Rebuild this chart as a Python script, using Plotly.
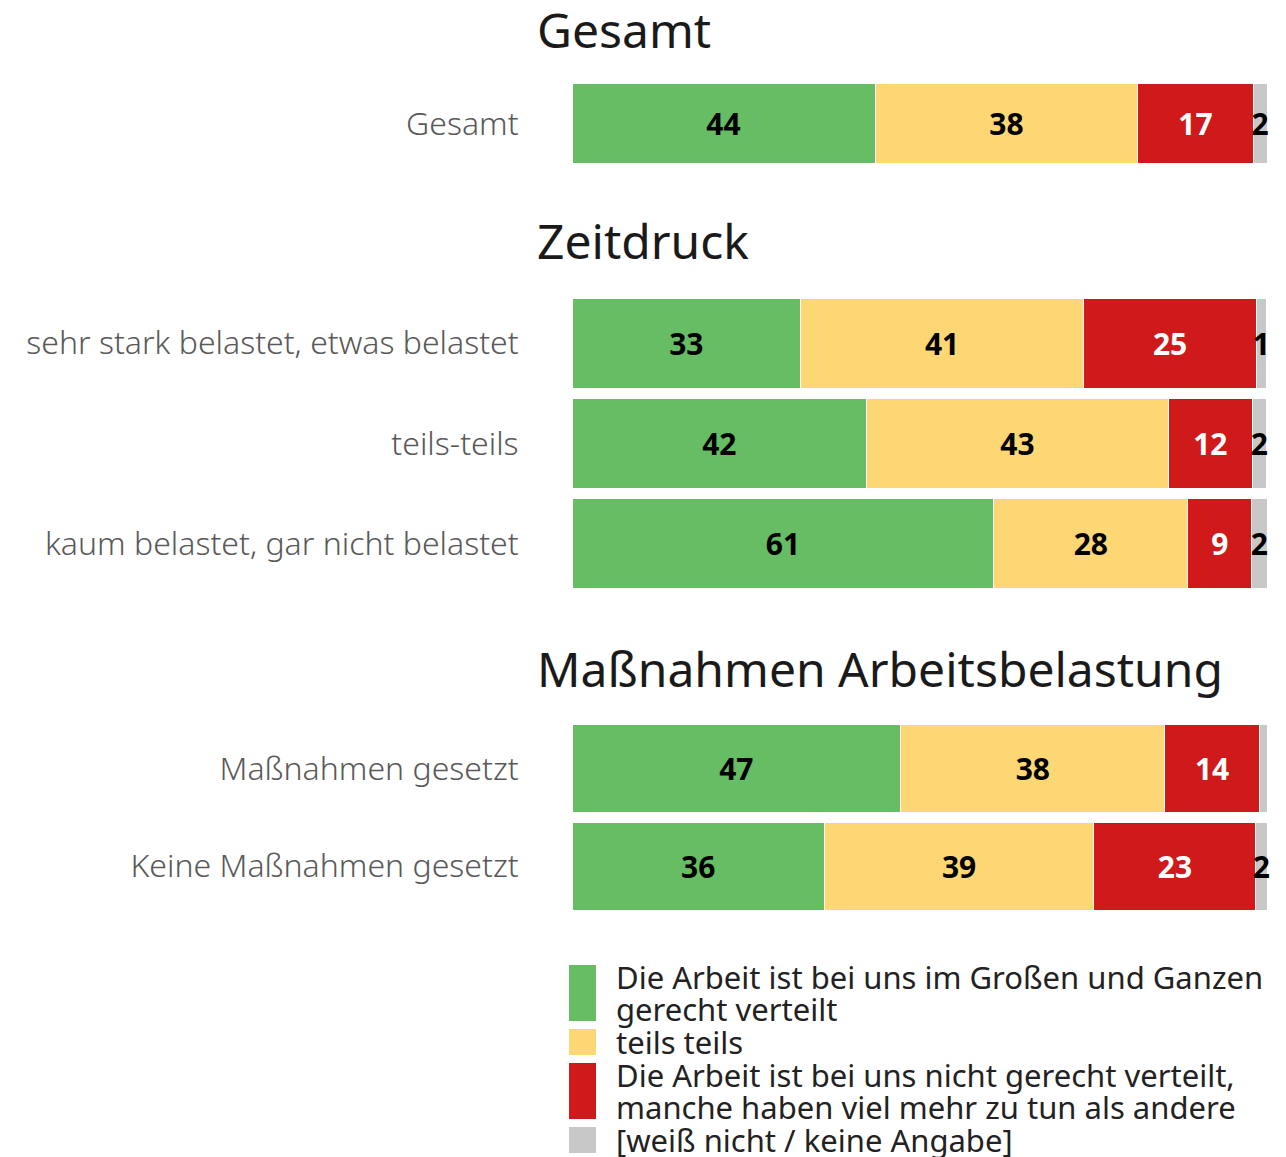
import plotly.graph_objects as go

# ---------------- data ----------------
panel_titles = ["Gesamt", "Zeitdruck", "Maßnahmen Arbeitsbelastung"]
categories = [
    "Gesamt",
    "sehr stark belastet, etwas belastet",
    "teils-teils",
    "kaum belastet, gar nicht belastet",
    "Maßnahmen gesetzt",
    "Keine Maßnahmen gesetzt",
]
category_panel = [0, 1, 1, 1, 2, 2]

series_names = [
    "Die Arbeit ist bei uns im Großen und Ganzen<br>gerecht verteilt",
    "teils teils",
    "Die Arbeit ist bei uns nicht gerecht verteilt,<br>manche haben viel mehr zu tun als andere",
    "[weiß nicht / keine Angabe]",
]
gerecht = [43.6, 32.9, 42.4, 60.7, 47.3, 36.3]
teils = [37.8, 40.7, 43.4, 27.9, 38.0, 38.8]
nicht_gerecht = [16.6, 24.9, 12.1, 9.2, 13.6, 23.3]
weiss_nicht = [2.0, 1.4, 2.0, 2.2, 1.2, 1.6]
series_values = [gerecht, teils, nicht_gerecht, weiss_nicht]

colors = ["#66BD63", "#FDD774", "#D0191A", "#C8C8C8"]
text_colors = ["#000000", "#000000", "#FFFFFF", "#000000"]

# ---------------- layout helpers ----------------
OFF = 8  # page body margin
W, H = 1286 - OFF, 1157 - OFF
FONT = "Noto Sans"


def px_x(px):
    return (px - OFF) / W


def px_y(px):
    return 1 - (px - OFF) / H


# panel pixel extents (top, bottom)
panel_px = [(79, 168), (293, 594), (720, 915)]
title_px = [30, 241, 668]

fig = go.Figure()

for p in range(3):
    idx = [i for i, cp in enumerate(category_panel) if cp == p]
    cats = [categories[i] for i in idx]
    ax = "" if p == 0 else str(p + 1)
    for s in range(4):
        fig.add_trace(
            go.Bar(
                y=cats,
                x=[series_values[s][i] for i in idx],
                orientation="h",
                name=series_names[s].replace("<br>", " "),
                marker=dict(color=colors[s], line=dict(color="white", width=1)),
                texttemplate="%{x:.0f}",
                textposition="inside",
                insidetextanchor="middle",
                textangle=0,
                constraintext="none",
                insidetextfont=dict(family=FONT, size=30, color=text_colors[s], weight="bold"),
                xaxis="x" + ax,
                yaxis="y" + ax,
                showlegend=False,
                cliponaxis=False,
            )
        )

layout = dict(
    width=W,
    height=H,
    barmode="stack",
    bargap=0.1,
    margin=dict(l=0, r=0, t=0, b=0),
    plot_bgcolor="white",
    paper_bgcolor="white",
    font=dict(family=FONT),
    showlegend=False,
)

for p in range(3):
    ax = "" if p == 0 else str(p + 1)
    top, bot = panel_px[p]
    layout["xaxis" + ax] = dict(
        domain=[px_x(572), px_x(1267)],
        range=[0, 100],
        visible=False,
        anchor="y" + ax,
        fixedrange=True,
    )
    layout["yaxis" + ax] = dict(
        domain=[px_y(bot), px_y(top)],
        autorange="reversed",
        anchor="x" + ax,
        showgrid=False,
        zeroline=False,
        showline=False,
        ticks="outside",
        ticklen=46,
        tickcolor="rgba(0,0,0,0)",
        tickfont=dict(family=FONT, size=32, color="#595959", weight=300),
        automargin=False,
    )

fig.update_layout(**layout)

# panel titles
for p in range(3):
    fig.add_annotation(
        x=px_x(535), y=px_y(title_px[p]), xref="paper", yref="paper",
        xanchor="left", yanchor="middle", showarrow=False,
        text=panel_titles[p],
        font=dict(family=FONT, size=48, color="#1a1a1a"),
    )

# legend (custom, swatches span the text lines)
leg_swatch_px = [(965, 1021), (1029, 1055), (1063, 1119), (1127, 1153)]
LINE_H = 32
for s in range(4):
    t, b = leg_swatch_px[s]
    fig.add_shape(
        type="rect", xref="paper", yref="paper",
        x0=px_x(569), x1=px_x(596), y0=px_y(b), y1=px_y(t),
        fillcolor=colors[s], line=dict(width=0),
    )
    lines = series_names[s].split("<br>")
    first = (t + b) / 2 - (len(lines) - 1) * LINE_H / 2
    for k, line in enumerate(lines):
        fig.add_annotation(
            x=px_x(614), y=px_y(first + k * LINE_H), xref="paper", yref="paper",
            xanchor="left", yanchor="middle", align="left", showarrow=False,
            text=line,
            font=dict(family=FONT, size=31, color="#222222"),
        )

fig.write_html("out.html")
